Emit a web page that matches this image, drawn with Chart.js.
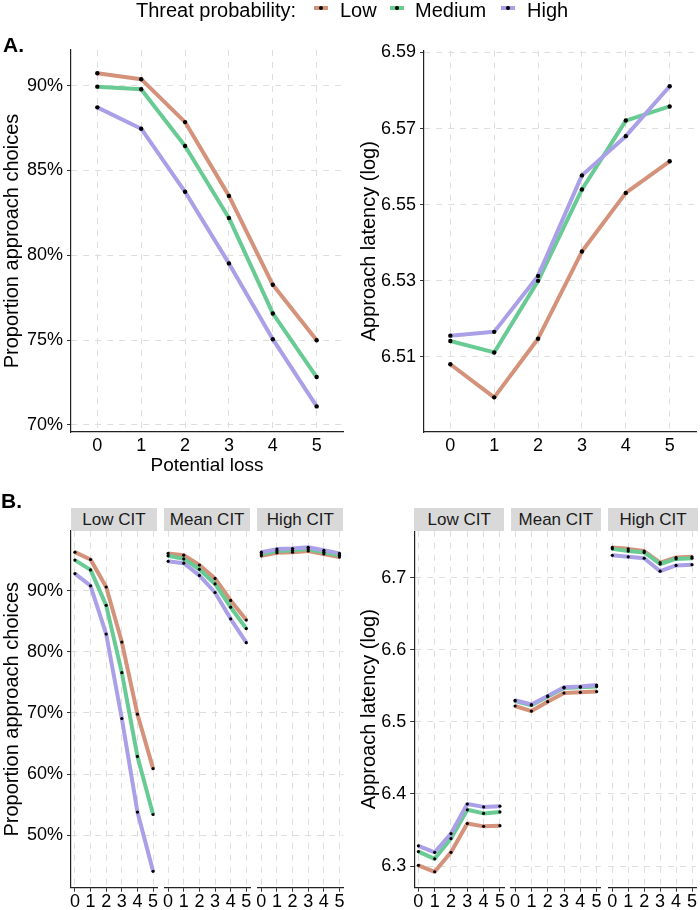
<!DOCTYPE html>
<html><head><meta charset="utf-8">
<script src="https://cdn.jsdelivr.net/npm/chart.js@4.4.0/dist/chart.umd.min.js"></script>
<style>
html,body{margin:0;padding:0;background:#fff;}
body{width:700px;height:910px;position:relative;overflow:hidden;font-family:"Liberation Sans",Arial,sans-serif;}
canvas{position:absolute;left:0;top:0;}
.t{position:absolute;white-space:nowrap;color:#000;}
.strip{position:absolute;background:#D9D9D9;color:#1a1a1a;font-size:17px;text-align:center;}
</style></head><body>
<script>
// ---------- DATA ----------
const lossLevels = [0, 1, 2, 3, 4, 5];
const threatLevels = ['Low', 'Medium', 'High'];
const citLevels = ['Low CIT', 'Mean CIT', 'High CIT'];

// Panel A: proportion approach choices (%)
const propA_Low    = [90.73, 90.38, 87.85, 83.50, 78.26, 74.99];
const propA_Medium = [89.94, 89.79, 86.44, 82.20, 76.57, 72.82];
const propA_High   = [88.72, 87.46, 83.74, 79.52, 75.05, 71.09];

// Panel A: approach latency (log)
const latA_Low    = [6.5081, 6.4994, 6.5148, 6.5377, 6.5531, 6.5614];
const latA_Medium = [6.5142, 6.5112, 6.5300, 6.5540, 6.5721, 6.5758];
const latA_High   = [6.5156, 6.5166, 6.5313, 6.5577, 6.5680, 6.5811];

// Panel B: proportion approach choices (%) per CIT facet [Low CIT, Mean CIT, High CIT]
const propB_Low = [
  [96.3, 95.1, 90.6, 81.6, 69.8, 60.9],
  [96.1, 95.8, 94.2, 92.0, 88.4, 85.2],
  [95.7, 96.2, 96.3, 96.5, 96.0, 95.5]];
const propB_Medium = [
  [95.0, 93.4, 87.6, 76.6, 62.9, 53.4],
  [95.7, 95.2, 93.5, 91.1, 87.3, 83.8],
  [96.0, 96.5, 96.6, 96.8, 96.3, 95.8]];
const propB_High = [
  [92.8, 90.8, 82.9, 69.1, 53.8, 44.1],
  [94.8, 94.5, 92.5, 89.7, 85.4, 81.5],
  [96.3, 96.8, 96.9, 97.1, 96.6, 96.1]];

// Panel B: approach latency (log) per CIT facet
const latB_Low = [
  [6.301, 6.292, 6.319, 6.359, 6.355, 6.356],
  [6.522, 6.515, 6.528, 6.540, 6.541, 6.542],
  [6.742, 6.740, 6.737, 6.721, 6.728, 6.729]];
const latB_Medium = [
  [6.320, 6.310, 6.338, 6.378, 6.373, 6.375],
  [6.529, 6.523, 6.535, 6.547, 6.548, 6.549],
  [6.740, 6.737, 6.735, 6.719, 6.726, 6.727]];
const latB_High = [
  [6.328, 6.319, 6.345, 6.386, 6.382, 6.383],
  [6.530, 6.524, 6.536, 6.548, 6.549, 6.551],
  [6.731, 6.729, 6.727, 6.709, 6.717, 6.718]];

const propTicks = [70, 75, 80, 85, 90];
const latTicks = [6.51, 6.53, 6.55, 6.57, 6.59];
const propTicksB = [50, 60, 70, 80, 90];
const latTicksB = [6.3, 6.4, 6.5, 6.6, 6.7];

// ---------- STYLE ----------
const FONT = '"Liberation Sans", Arial, sans-serif';
Chart.defaults.font.family = FONT;
Chart.defaults.color = '#000';
const W = 700, H = 910;
const COLORS = { Low: '#D4927A', Medium: '#68CB94', High: '#AAA0E8' };
const GRID = '#DEDEDE';

function el(cls, style, text) {
  const d = document.createElement('div');
  d.className = cls; d.setAttribute('style', style);
  if (text !== undefined) d.textContent = text;
  document.body.appendChild(d);
  return d;
}

function makeChart(o) {
  const cv = document.createElement('canvas');
  cv.width = W; cv.height = H;
  cv.style.width = W + 'px'; cv.style.height = H + 'px';
  document.body.appendChild(cv);
  const series = [['High', o.high], ['Medium', o.med], ['Low', o.low]];
  const ds = [];
  series.forEach(([name, vals]) => ds.push({
    label: name + ' pts', data: lossLevels.map((x, i) => ({ x, y: vals[i] })),
    showLine: false, pointRadius: o.pr, pointBackgroundColor: '#000', pointBorderColor: '#000',
    pointBorderWidth: 0, order: 0
  }));
  series.forEach(([name, vals], k) => ds.push({
    label: name, data: lossLevels.map((x, i) => ({ x, y: vals[i] })),
    showLine: true, borderColor: COLORS[name], borderWidth: o.lw, pointRadius: 0,
    borderJoinStyle: 'round', borderCapStyle: 'butt', tension: 0, fill: false, order: 1 + k
  }));
  new Chart(cv, {
    type: 'scatter',
    data: { datasets: ds },
    options: {
      responsive: false, animation: false, devicePixelRatio: 1, events: [],
      plugins: { legend: { display: false }, tooltip: { enabled: false } },
      layout: { padding: { left: o.l - o.yW, top: o.t, right: W - o.r, bottom: H - o.b - o.xH } },
      scales: {
        x: {
          type: 'linear', min: o.xmin, max: o.xmax,
          afterFit: s => { s.height = o.xH; s.paddingLeft = 0; s.paddingRight = 0; },
          afterBuildTicks: s => { s.ticks = lossLevels.map(v => ({ value: v })); },
          grid: { color: GRID, lineWidth: 1, drawTicks: o.xTicks, tickLength: 4, tickColor: '#333', tickWidth: 1 },
          border: { display: true, color: '#222', width: 1.2, dash: [6, 6] },
          ticks: { font: { size: o.xFont }, color: '#000', padding: o.xPad, maxRotation: 0, minRotation: 0, autoSkip: false,
                   callback: v => String(v) },
          title: { display: !!o.xTitle, text: o.xTitle || '', font: { size: 19 }, color: '#000', padding: 0 }
        },
        y: {
          type: 'linear', min: o.ymin, max: o.ymax,
          afterFit: s => { s.width = o.yW; s.paddingTop = 0; s.paddingBottom = 0; },
          afterBuildTicks: s => { s.ticks = o.yticks.map(v => ({ value: v })); },
          grid: { color: GRID, lineWidth: 1, drawTicks: o.showY, tickLength: 4, tickColor: '#333', tickWidth: 1 },
          border: { display: o.showY, color: '#222', width: 1.2, dash: [6, 6] },
          ticks: { display: o.showY, font: { size: 18 }, color: '#000', padding: 4, callback: v => o.yFmt(v) },
          title: { display: o.showY && !!o.yTitle, text: o.yTitle || '', font: { size: 20 }, color: '#000', padding: 0 }
        }
      }
    }
  });
}

// ---------- Panel A ----------
makeChart({
  l: 71, t: 50, r: 343, b: 432, yW: 71, xH: 45,
  xmin: -0.6, xmax: 5.6, ymin: 69.58, ymax: 92.1, yticks: propTicks, yFmt: v => v + '%',
  showY: true, yTitle: 'Proportion approach choices', xTitle: 'Potential loss',
  xTicks: false, xPad: 3, xFont: 18, pr: 2.2, lw: 4,
  low: propA_Low, med: propA_Medium, high: propA_High
});
makeChart({
  l: 424, t: 50.5, r: 698, b: 432, yW: 67, xH: 40,
  xmin: -0.6, xmax: 5.6, ymin: 6.4903, ymax: 6.5905, yticks: latTicks, yFmt: v => v.toFixed(2),
  showY: true, yTitle: 'Approach latency (log)', xTitle: '',
  xTicks: false, xPad: 3, xFont: 18, pr: 2.2, lw: 4,
  low: latA_Low, med: latA_Medium, high: latA_High
});

// ---------- Panel B ----------
const bLeftL = [71, 164.2, 257.4], bLeftR = [157, 250.2, 343.4];
const bRightL = [414.3, 511, 608.3], bRightR = [504, 600.7, 697.7];
const stripTop = 507.7, stripH = 23;
for (let k = 0; k < 3; k++) {
  makeChart({
    l: bLeftL[k], t: 530.7, r: bLeftR[k], b: 887.7, yW: k === 0 ? 71 : 0, xH: 22,
    xmin: -0.25, xmax: 5.25, ymin: 41.43, ymax: 99.81, yticks: propTicksB, yFmt: v => v + '%',
    showY: k === 0, yTitle: 'Proportion approach choices',
    xTicks: true, xPad: 0, xFont: 18, pr: 1.6, lw: 4,
    low: propB_Low[k], med: propB_Medium[k], high: propB_High[k]
  });
  makeChart({
    l: bRightL[k], t: 530.7, r: bRightR[k], b: 887.7, yW: k === 0 ? 57.3 : 0, xH: 22,
    xmin: -0.25, xmax: 5.25, ymin: 6.2699, ymax: 6.7652, yticks: latTicksB, yFmt: v => v.toFixed(1),
    showY: k === 0, yTitle: 'Approach latency (log)',
    xTicks: true, xPad: 0, xFont: 18, pr: 1.6, lw: 4,
    low: latB_Low[k], med: latB_Medium[k], high: latB_High[k]
  });
  el('strip', `left:${bLeftL[k]}px;top:${stripTop}px;width:${bLeftR[k]-bLeftL[k]}px;height:${stripH}px;line-height:${stripH}px;`, citLevels[k]);
  el('strip', `left:${bRightL[k]}px;top:${stripTop}px;width:${bRightR[k]-bRightL[k]}px;height:${stripH}px;line-height:${stripH}px;`, citLevels[k]);
}

// ---------- Panel labels ----------
el('t', 'left:3px;top:34px;font-size:21px;line-height:21px;font-weight:bold;', 'A.');
el('t', 'left:1px;top:490px;font-size:21px;line-height:21px;font-weight:bold;', 'B.');

// ---------- Legend ----------
el('t', 'right:404px;top:0px;font-size:20px;line-height:20px;', 'Threat probability:');
const keyX = [314, 390, 501], textX = [340, 415, 527];
threatLevels.forEach((name, i) => {
  el('t', `left:${keyX[i]}px;top:6px;width:14px;height:4px;background:${COLORS[name]};`);
  el('t', `left:${keyX[i] + 5}px;top:6px;width:4px;height:4px;border-radius:50%;background:#000;`);
  el('t', `left:${textX[i]}px;top:0px;font-size:20px;line-height:20px;`, name);
});
</script>
</body></html>
